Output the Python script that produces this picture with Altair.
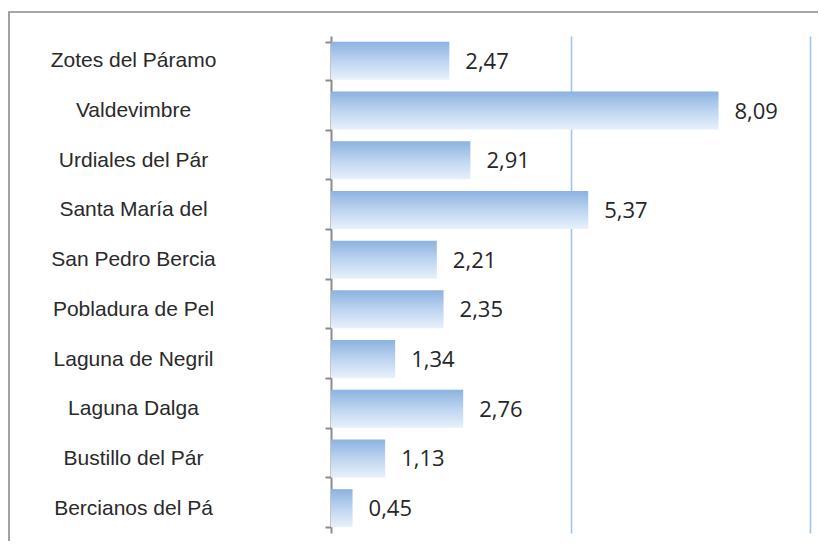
import altair as alt
import pandas as pd

categories = ["Zotes del Páramo", "Valdevimbre", "Urdiales del Pár", "Santa María del ",
              "San Pedro Bercia", "Pobladura de Pel", "Laguna de Negril", "Laguna Dalga",
              "Bustillo del Pár", "Bercianos del Pá"]
values = [2.47, 8.09, 2.91, 5.37, 2.21, 2.35, 1.34, 2.76, 1.13, 0.45]
grid_values = [5, 10]

df = pd.DataFrame({"cat": categories, "val": values})
df["label"] = [f"{v:.2f}".replace(".", ",") for v in values]

W, H = 479, 497

y_enc = alt.Y("cat:N", sort=categories,
              scale=alt.Scale(paddingInner=0.235, paddingOuter=0.1175),
              axis=alt.Axis(title=None, tickBand="extent", domainColor="#8c8c8c",
                            domainWidth=2, tickColor="#8c8c8c", tickWidth=2, tickSize=6,
                            labelAlign="center", labelPadding=192, labelLimit=400,
                            labelFont="Liberation Sans", labelFontSize=21,
                            labelColor="#2a2a2a", grid=False))
x_enc = alt.X("val:Q", scale=alt.Scale(domain=[0, 10], nice=False),
              axis=alt.Axis(title=None, values=grid_values, labels=False, ticks=False,
                            domain=False, grid=True, gridColor="#a3c3ee", gridWidth=1.6))

grad = alt.Gradient(gradient="linear",
                    stops=[alt.GradientStop(color="#8CB2E0", offset=0),
                           alt.GradientStop(color="#BDD4F0", offset=0.5),
                           alt.GradientStop(color="#E8F1FB", offset=1)],
                    x1=0, x2=0, y1=0, y2=1)

bars = alt.Chart(df).mark_bar(color=grad).encode(x=x_enc, y=y_enc)
text = alt.Chart(df).mark_text(align="left", baseline="middle", dx=16, dy=1,
                               font="Open Sans", fontSize=22, color="#262626").encode(
    x="val:Q", y=alt.Y("cat:N", sort=categories), text="label:N")

frame = alt.Chart(pd.DataFrame({"a": [0]})).mark_rect(
    fill="transparent", stroke="#8a8a8a", strokeWidth=1.6).encode(
    x=alt.value(-322), x2=alt.value(W + 40), y=alt.value(-24), y2=alt.value(H + 40))

chart = alt.layer(frame, bars, text).properties(
    width=W, height=H,
    autosize=alt.AutoSizeParams(type="none"),
    padding={"left": 323, "top": 28, "right": 8, "bottom": 8},
    background="white",
).configure_view(stroke=None)

chart.save("out.html", embed_options={"renderer": "svg", "actions": False})
